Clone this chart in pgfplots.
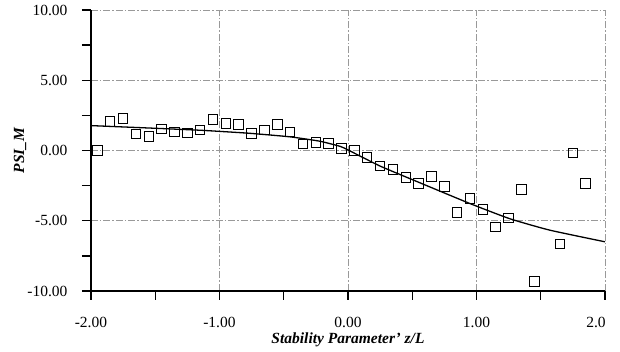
\documentclass[border=0pt]{standalone}
\usepackage{pgfplots}
\pgfplotsset{compat=1.18}
\usepackage{pgfplotstable}
\usepackage{fontspec}
\setmainfont{Liberation Serif}

\pgfplotstableread{
x y
-1.95 0.00
-1.85 2.08
-1.75 2.27
-1.65 1.16
-1.55 0.99
-1.45 1.54
-1.35 1.33
-1.25 1.23
-1.15 1.44
-1.05 2.20
-0.95 1.91
-0.85 1.84
-0.75 1.20
-0.65 1.47
-0.55 1.85
-0.45 1.30
-0.35 0.47
-0.25 0.57
-0.15 0.50
-0.05 0.14
0.05 0.00
0.15 -0.50
0.25 -1.11
0.35 -1.35
0.45 -1.94
0.55 -2.36
0.65 -1.87
0.75 -2.55
0.85 -4.42
0.95 -3.43
1.05 -4.21
1.15 -5.44
1.25 -4.80
1.35 -2.77
1.45 -9.34
1.65 -6.65
1.75 -0.19
1.85 -2.34
}\obs

\pgfplotstableread{
x y
-2.00 1.77
-1.50 1.58
-1.15 1.44
-1.00 1.36
-0.76 1.22
-0.45 0.97
-0.22 0.66
-0.06 0.29
0.00 0.04
0.25 -1.11
0.56 -2.30
0.95 -3.78
1.26 -4.86
1.57 -5.67
2.00 -6.50
}\fit

\begin{document}
\begin{tikzpicture}
\begin{axis}[
  scale only axis, width=514pt, height=281pt,
  xmin=-2, xmax=2, ymin=-10, ymax=10,
  axis lines=left,
  axis line style={-, line width=1.3pt, black},
  xtick={-2,-1,0,1}, minor xtick={-1.5,-0.5,0.5,1.5},
  extra x ticks={2}, extra x tick labels={2.0},
  extra x tick style={grid=major, xticklabel style={xshift=-9pt}},
  ytick={-10,-5,0,5,10}, minor ytick={-7.5,-2.5,2.5,7.5},
  tick align=outside,
  major tick length=9pt, minor tick length=9pt,
  every tick/.style={black, line width=1.3pt},
  grid=major,
  major grid style={gray!80, line width=0.7pt, dash pattern=on 7pt off 2pt on 1.5pt off 2pt},
  ticklabel style={font=\fontsize{15.5}{18}\selectfont},
  xticklabel style={yshift=-14pt},
  yticklabel style={xshift=-11pt},
  xlabel={\fontsize{15.5}{18}\selectfont\bfseries\itshape Stability Parameter' z/L},
  ylabel={\fontsize{15.5}{18}\selectfont\bfseries\itshape PSI\_M},
  xlabel style={at={(axis description cs:0.5,-0.174)}, anchor=center},
  ylabel style={at={(axis description cs:-0.138,0.5)}, anchor=center},
  clip=false,
  /pgf/number format/fixed,
  /pgf/number format/fixed zerofill,
  /pgf/number format/precision=2,
  /pgf/number format/assume math mode=true,
]
\addplot[black, line width=1.3pt, smooth, tension=0.3] table[x=x,y=y] {\fit};
\addplot[only marks, mark=square, mark size=4.75pt, mark options={black, line width=1pt, solid}] table[x=x,y=y] {\obs};
\coordinate (BL) at (axis cs:-2.708,-14.34);
\coordinate (TR) at (axis cs:2.117,10.71);
\end{axis}
\pgfresetboundingbox
\useasboundingbox (BL) rectangle (TR);
\end{tikzpicture}
\end{document}
